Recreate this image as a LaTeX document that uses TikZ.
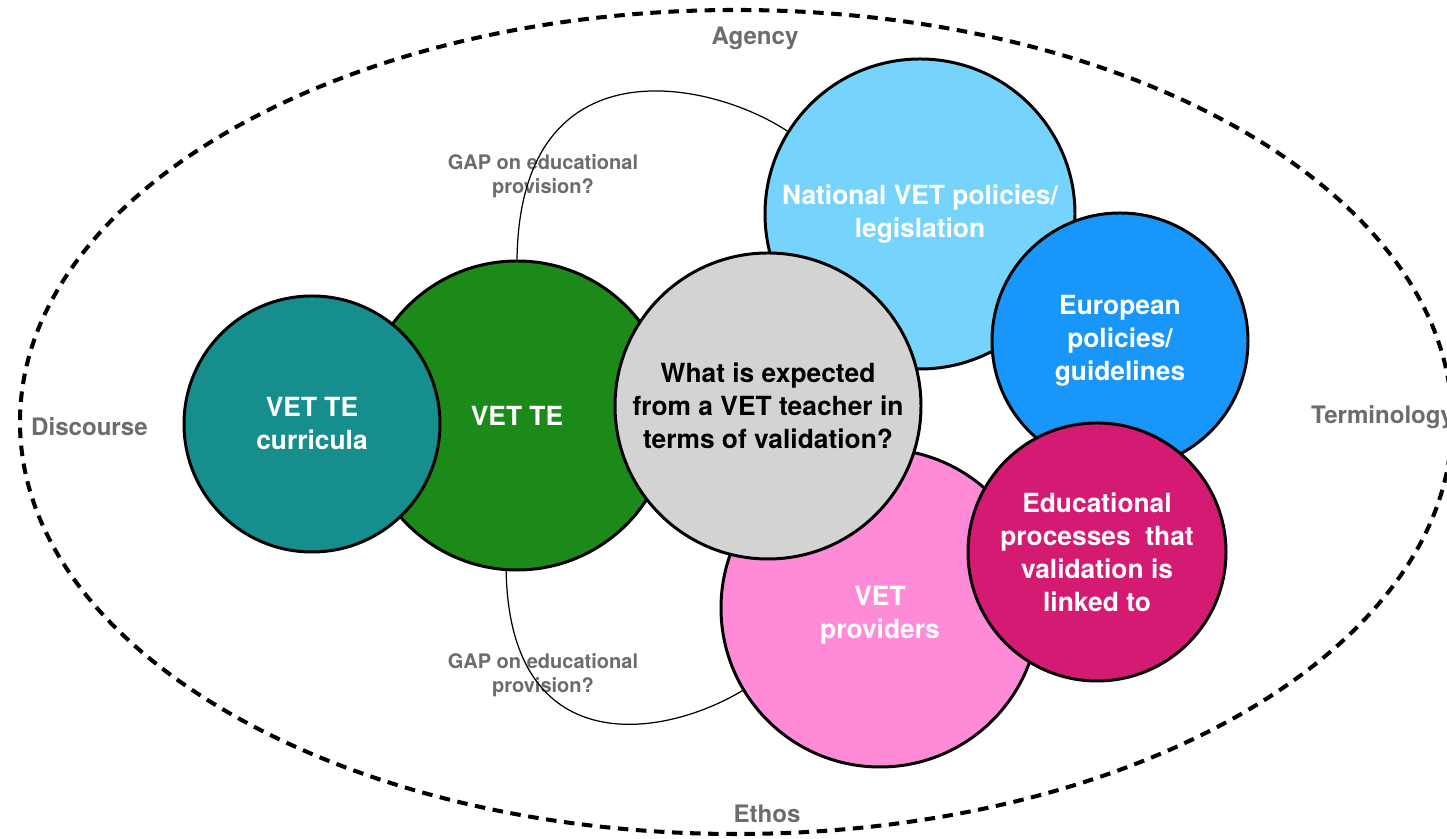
\documentclass[tikz,border=0pt]{standalone}
\usepackage{fontspec}
\setmainfont{TeX Gyre Heros}

\definecolor{tealfill}{RGB}{23,142,142}
\definecolor{greenfill}{RGB}{27,138,24}
\definecolor{greyfill}{RGB}{211,211,211}
\definecolor{skyfill}{RGB}{118,212,252}
\definecolor{bluefill}{RGB}{24,150,250}
\definecolor{pinkfill}{RGB}{255,138,216}
\definecolor{magentafill}{RGB}{213,26,115}
\definecolor{labelgrey}{RGB}{108,108,108}

\tikzset{
  bubbletext/.style={text=white, align=center, font=\bfseries\fontsize{15}{18.8}\selectfont},
  bubble/.style={circle, draw=black, line width=1.7pt, inner sep=0pt, bubbletext},
  theme/.style={text=labelgrey, font=\bfseries\fontsize{13.7}{16}\selectfont},
  gapnote/.style={text=labelgrey, align=center, font=\bfseries\fontsize{11.4}{13.7}\selectfont},
  gapline/.style={line width=0.7pt}
}

\begin{document}
\begin{tikzpicture}
        \fill[white] (0,0) rectangle (28.94,16.78);
        \useasboundingbox (0,0) rectangle (28.94,16.78);

        % Dashed frame around everything
        \draw[line width=2.3pt, dash pattern=on 6pt off 4.3pt] (14.72,8.34) ellipse (14.32cm and 8.24cm);

        % Bubbles, back ones first
        \node[bubble, fill=greenfill, minimum size=6.18cm] (vette) at (10.34,8.47) {VET TE};
        \node[bubble, fill=skyfill, minimum size=6.20cm] (national) at (18.40,12.50) {National VET policies/\\legislation};
        \node[bubble, fill=pinkfill, minimum size=6.36cm,
          label={[bubbletext, yshift=-0.14cm]center:VET\\providers}] (providers) at (17.60,4.62) {};
        \node[bubble, fill=bluefill, minimum size=5.12cm] (european) at (22.40,9.96) {European\\policies/\\guidelines};
        \node[bubble, fill=tealfill, minimum size=5.12cm] (curricula) at (6.24,8.30) {VET TE\\curricula};
        \node[bubble, fill=greyfill, text=black, minimum size=6.12cm] (expected) at (15.36,8.66) {What is expected\\from a VET teacher in\\terms of validation?};
        \node[bubble, fill=magentafill, minimum size=5.16cm] (processes) at (21.94,5.74) {Educational\\processes\ \ that\\validation is\\linked to};

        % Themes on the frame
        \node[theme] (agency) at (15.10,16.02) {Agency};
        \node[theme, anchor=west] (discourse) at (0.50,8.24) {Discourse};
        \node[theme, anchor=west] (terminology) at (26.10,8.44) {Terminology};
        \node[theme] (ethos) at (15.34,0.50) {Ethos};

        % Gaps between VET TE and the policy side
        \node[gapnote] (gapup) at (10.86,13.26) {GAP on educational\\provision?};
        \node[gapnote] (gapdown) at (10.86,3.28) {GAP on educational\\provision?};

        \draw[gapline] (vette.north) .. controls (10.40,15.98) and (14.20,15.18) .. (national.148);
        \draw[gapline] (vette.266) .. controls (10.20,1.58) and (13.20,1.98) .. (providers.211);
      \end{tikzpicture}
\end{document}
